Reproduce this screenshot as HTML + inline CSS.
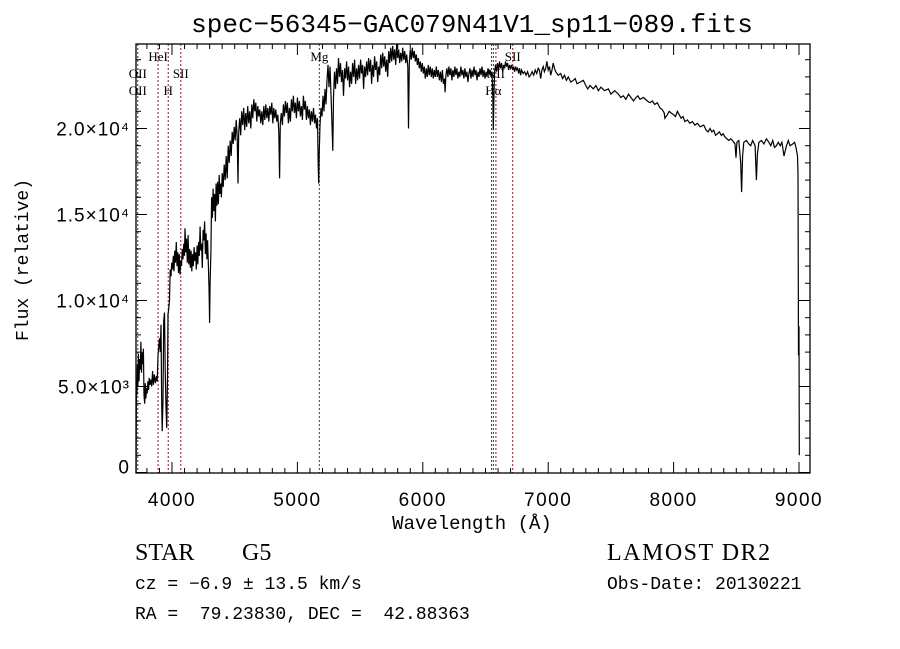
<!DOCTYPE html>
<html><head><meta charset="utf-8"><style>
html,body{margin:0;padding:0;background:#fff;}
svg{display:block;}
</style></head><body>
<svg id="chart" width="900" height="649" viewBox="0 0 900 649" xmlns="http://www.w3.org/2000/svg">
<rect x="0" y="0" width="900" height="649" fill="#fff"/>
<text x="472" y="32" text-anchor="middle" font-family="Liberation Mono, monospace" font-size="26">spec−56345−GAC079N41V1_sp11−089.fits</text>
<g id="lines"></g>
<g id="ticks"></g>
<path id="spec" fill="none" stroke="#000" stroke-width="1.2" stroke-linejoin="miter"/>
<rect x="136" y="44" width="674" height="429" fill="none" stroke="#000" stroke-width="1.3"/>
<g id="labels" font-family="Liberation Serif, serif" font-size="13"></g>
<text x="472" y="529" text-anchor="middle" font-family="Liberation Mono, monospace" font-size="19">Wavelength (Å)</text>
<text transform="translate(28,260) rotate(-90)" text-anchor="middle" font-family="Liberation Mono, monospace" font-size="18">Flux (relative)</text>
<text x="135" y="560" font-family="Liberation Serif, serif" font-size="24">STAR</text>
<text x="242" y="560" font-family="Liberation Serif, serif" font-size="24">G5</text>
<text x="135" y="589" font-family="Liberation Mono, monospace" font-size="18">cz = −6.9 ± 13.5 km/s</text>
<text x="135" y="619" font-family="Liberation Mono, monospace" font-size="18" xml:space="preserve">RA =  79.23830, DEC =  42.88363</text>
<text x="607" y="560" font-family="Liberation Serif, serif" font-size="24" letter-spacing="1.5">LAMOST DR2</text>
<text x="607" y="589" font-family="Liberation Mono, monospace" font-size="18">Obs-Date: 20130221</text>
</svg>
<script>
const wl = [3713,3714,3716,3720,3724,3728,3732,3737,3742,3747,3752,3757,3762,3767,3772,3777,3782,3787,3792,3797,3802,3808,3813,3818,3825,3832,3838,3845,3852,3860,3868,3876,3882,3888,3894,3900,3906,3912,3918,3922,3928,3934,3940,3946,3952,3958,3964,3968,3974,3980,3986,3992,3998,4004,4010,4016,4022,4028,4034,4040,4046,4052,4058,4064,4070,4076,4082,4088,4094,4100,4104,4110,4116,4122,4128,4134,4140,4146,4152,4158,4164,4170,4176,4182,4188,4194,4200,4206,4212,4218,4224,4230,4236,4242,4248,4254,4260,4266,4272,4278,4284,4290,4296,4300,4304,4310,4316,4322,4328,4334,4340,4346,4352,4358,4364,4370,4376,4382,4388,4394,4400,4408,4416,4424,4432,4440,4448,4456,4464,4472,4480,4488,4496,4504,4512,4520,4526,4532,4540,4548,4556,4564,4572,4580,4588,4596,4604,4612,4620,4628,4636,4644,4652,4660,4668,4676,4684,4692,4700,4708,4716,4724,4732,4740,4748,4756,4764,4772,4780,4788,4796,4804,4812,4820,4828,4836,4844,4852,4858,4864,4872,4880,4888,4896,4904,4912,4920,4928,4936,4944,4952,4960,4968,4976,4984,4992,5000,5008,5016,5024,5032,5040,5048,5056,5064,5072,5080,5088,5096,5104,5112,5120,5128,5136,5144,5152,5160,5166,5170,5174,5180,5188,5196,5204,5212,5220,5228,5236,5244,5252,5260,5268,5276,5282,5288,5296,5304,5312,5320,5328,5336,5344,5352,5360,5368,5376,5384,5392,5400,5408,5416,5424,5432,5440,5448,5456,5464,5472,5480,5488,5496,5504,5512,5520,5528,5536,5544,5552,5560,5568,5576,5584,5592,5600,5608,5616,5624,5632,5640,5648,5656,5664,5672,5680,5688,5696,5704,5712,5720,5728,5736,5744,5752,5760,5768,5776,5784,5792,5800,5808,5816,5824,5832,5840,5848,5856,5864,5872,5880,5886,5892,5900,5908,5916,5924,5932,5940,5948,5956,5964,5972,5980,5988,5996,6004,6012,6020,6028,6036,6044,6052,6060,6068,6076,6084,6092,6100,6108,6116,6124,6132,6140,6148,6156,6164,6172,6178,6184,6192,6200,6208,6216,6224,6232,6240,6248,6256,6264,6272,6280,6288,6296,6304,6312,6320,6328,6336,6344,6352,6360,6368,6376,6384,6392,6400,6408,6416,6424,6432,6440,6448,6456,6464,6472,6480,6488,6496,6504,6512,6520,6528,6536,6544,6552,6558,6562,6566,6572,6580,6588,6596,6604,6612,6620,6628,6636,6644,6652,6660,6668,6676,6684,6692,6700,6708,6716,6724,6732,6740,6748,6756,6764,6772,6780,6788,6800,6812,6824,6836,6848,6860,6872,6884,6896,6908,6920,6930,6940,6950,6960,6970,6980,6990,7000,7010,7020,7030,7040,7050,7060,7080,7100,7115,7130,7145,7160,7180,7200,7215,7230,7254,7280,7300,7315,7333,7360,7380,7400,7420,7450,7480,7500,7530,7560,7580,7600,7620,7640,7660,7680,7700,7715,7732,7760,7790,7812,7830,7850,7870,7891,7910,7925,7931,7950,7965,7980,8000,8015,8030,8045,8060,8075,8090,8110,8130,8150,8170,8190,8211,8240,8260,8275,8290,8305,8320,8335,8350,8365,8380,8395,8410,8440,8455,8470,8490,8498,8505,8520,8535,8542,8550,8560,8580,8600,8615,8630,8650,8660,8668,8680,8700,8720,8740,8760,8775,8790,8805,8820,8835,8850,8864,8880,8900,8915,8928,8950,8965,8976,8988,8992,8996,9000,9002];
const flux = [0,300,5200,4500,6300,5000,6900,5300,6600,6000,7600,5800,7000,6300,7200,4500,4000,5200,4300,4900,4600,5300,4800,5500,5100,5400,5000,5900,5100,5700,5200,5600,5300,6800,7300,7800,7000,8600,4000,2400,4200,8800,9300,6000,3800,2600,5500,9200,9500,10000,11800,11400,12200,11800,12600,11700,12900,12200,13400,12000,12800,11600,12700,11500,12300,12000,13000,12400,13300,12600,14200,12800,13600,12200,13800,12100,13000,11900,12900,11700,12700,12000,13100,12300,12800,11800,13200,12100,13400,12600,14300,12900,13300,11900,14100,13500,14600,12700,13900,12400,13500,12000,10500,8700,11000,12800,16000,14800,16500,15200,16200,14600,16800,15500,16900,15600,17300,16200,16800,16000,17400,16600,17900,17000,18400,17100,19000,18000,19300,18400,19800,19100,20100,19300,20500,19500,16800,19800,20600,19600,21000,20200,21200,19900,20900,20100,21300,20300,21000,20000,21400,20600,21700,21000,21500,20400,21300,20700,21100,20300,21000,20200,21300,20500,21400,20600,21200,20400,21300,20800,21500,20300,21200,20600,21100,20400,20800,19800,17100,20300,20900,20200,21400,20700,21600,20900,21500,20300,21200,20400,21700,21000,21900,20900,21500,20600,21800,21000,21600,20700,21300,20500,21900,21100,21600,20500,21300,20600,21100,20200,21000,20400,21200,20300,20800,20000,20600,17800,16800,18500,20200,21200,20700,21900,21000,22300,21400,22800,23700,22400,23600,22000,20200,18700,21800,23300,22300,23500,22600,24100,23000,23800,22700,23400,21900,23500,22900,23900,22800,23600,22400,23300,22600,23800,23000,24000,22600,23500,22800,23700,22900,24000,23200,23700,22300,23600,23000,23900,23100,24100,23300,24000,22600,23700,23000,24200,23400,23900,22700,23600,23100,24300,23500,24400,23600,24200,23300,24000,23000,24500,23800,24700,23900,24800,24000,24600,23700,24900,24100,24600,23800,24400,23900,24700,24000,24500,23800,24300,23600,20000,23800,24600,24000,24700,24100,24500,23900,24300,23700,24100,23500,23900,23300,23800,23200,23600,22900,23500,23000,23700,23100,23600,23000,23500,22900,23400,23000,23600,23000,23400,22800,23300,22700,23400,22600,22900,22100,23100,23500,23000,23600,23100,23500,22800,23400,23000,23600,23100,23500,22900,23300,23000,23600,23100,23400,22900,23500,23000,23300,22700,23200,23500,22900,23400,23000,23600,23100,23400,22800,23300,23000,23500,23100,23600,23000,23400,22900,23300,23000,23500,23100,23400,23000,23300,22000,19900,21500,23200,23700,23300,23800,23400,23900,23500,23800,23300,23700,23500,23900,23600,23800,23400,23700,23500,23700,23400,23600,23300,23600,23400,23500,23200,23500,23100,23400,23200,23300,23100,23300,23000,23100,23300,23100,23400,23200,23500,23400,22900,23400,23600,23300,23500,23900,23400,23600,23100,23400,23800,23500,23300,23100,23200,22900,23100,22800,23000,22700,22800,22900,22600,22700,22800,22500,22300,22500,22300,22500,22200,22400,22200,22300,22000,22200,22000,21800,21900,21700,22000,21800,21600,21800,21900,21700,21800,21600,21500,21600,21400,21500,21200,21100,20900,20600,20800,21000,20900,20800,20700,21000,20800,20600,20700,20400,20500,20300,20400,20200,20300,20100,20200,19900,19800,20000,19800,19900,19600,19700,19800,19600,19700,19500,19300,19400,19300,19100,18300,19200,19300,18000,16300,18400,19200,19300,19100,19000,19300,19000,17000,18500,19200,19300,19100,19400,19200,19000,19300,18900,19000,19200,19000,19200,18400,19000,19300,19000,19100,19200,18900,18400,17400,6800,8500,1000,0];

const X0 = 172, XS = 0.1254;
const Y0 = 472.5, YS = 86/5000;
const xScale = w => X0 + (w - 4000) * XS;
const yScale = f => Y0 - f * YS;
const svgNS = 'http://www.w3.org/2000/svg';

let d = '';
for (let i = 0; i < wl.length; i++) {
  const px = Math.max(136, Math.min(810, xScale(wl[i])));
  d += (i ? 'L' : 'M') + px.toFixed(1) + ' ' + Math.min(473, yScale(flux[i])).toFixed(1);
}
document.getElementById('spec').setAttribute('d', d);

const lineWl = [3727, 3889, 3970, 4070, 5175, 6548, 6563, 6583, 6717];
const lineNames = ['OII', 'HeI', 'H', 'SII', 'Mg', 'NII', 'Hα', 'NII', 'SII'];
const gL = document.getElementById('lines');
lineWl.forEach((w, i) => {
  const l = document.createElementNS(svgNS, 'line');
  const px = xScale(w);
  l.setAttribute('x1', px); l.setAttribute('x2', px);
  l.setAttribute('y1', 44); l.setAttribute('y2', 473);
  l.setAttribute('stroke', '#8b1a1a'); l.setAttribute('stroke-width', '1');
  l.setAttribute('stroke-dasharray', '2,2');
  
  
  gL.appendChild(l);
});

const labelText = ['OII', 'OII', 'HeI', 'H', 'SII', 'Mg', 'NII', 'Hα', 'SII'];
const labelWl = [3727, 3727, 3889, 3970, 4070, 5175, 6583, 6563, 6717];
const labelRow = [2, 3, 1, 3, 2, 1, 2, 3, 1];
const gT = document.getElementById('labels');
labelText.forEach((t, i) => {
  const tx = document.createElementNS(svgNS, 'text');
  tx.setAttribute('x', xScale(labelWl[i]));
  tx.setAttribute('y', 44 + labelRow[i] * 17);
  tx.setAttribute('text-anchor', 'middle');
  tx.textContent = t;
  
  
  gT.appendChild(tx);
});

const xTickVals = [4000, 5000, 6000, 7000, 8000, 9000];
const yTickVals = [0, 5000, 10000, 15000, 20000];
const yTickLabels = ['0', '5.0×10³', '1.0×10⁴', '1.5×10⁴', '2.0×10⁴'];

const gK = document.getElementById('ticks');
function tick(x1, y1, x2, y2) {
  const l = document.createElementNS(svgNS, 'line');
  l.setAttribute('x1', x1); l.setAttribute('y1', y1);
  l.setAttribute('x2', x2); l.setAttribute('y2', y2);
  l.setAttribute('stroke', '#000'); l.setAttribute('stroke-width', '1');
  
  
  gK.appendChild(l);
}
for (let w = 3800; w <= 9000; w += 100) {
  const px = xScale(w);
  const len = (w % 1000 === 0) ? 11 : 5;
  tick(px, 473, px, 473 - len);
  tick(px, 44, px, 44 + len);
}
for (let f = 0; f <= 24000; f += 1000) {
  const py = yScale(f);
  const len = (f % 5000 === 0) ? 11 : 5;
  tick(136, py, 136 + len, py);
  tick(810, py, 810 - len, py);
}
xTickVals.forEach(v => {
  const t = document.createElementNS(svgNS, 'text');
  t.setAttribute('x', xScale(v)); t.setAttribute('y', 506);
  t.setAttribute('text-anchor', 'middle');
  t.setAttribute('font-family', 'Liberation Sans, sans-serif');
  t.setAttribute('font-size', '19');
  t.setAttribute('letter-spacing', '1.5');
  t.textContent = v;
  
  
  gK.appendChild(t);
});
yTickVals.forEach((v, i) => {
  const t = document.createElementNS(svgNS, 'text');
  t.setAttribute('x', 130); t.setAttribute('y', yScale(v) + 7 - (v === 0 ? 6 : 0));
  t.setAttribute('text-anchor', 'end');
  t.setAttribute('font-family', 'Liberation Sans, sans-serif');
  t.setAttribute('font-size', '19');
  t.setAttribute('letter-spacing', '1');
  t.textContent = yTickLabels[i];
  
  
  gK.appendChild(t);
});
</script>
</body></html>
